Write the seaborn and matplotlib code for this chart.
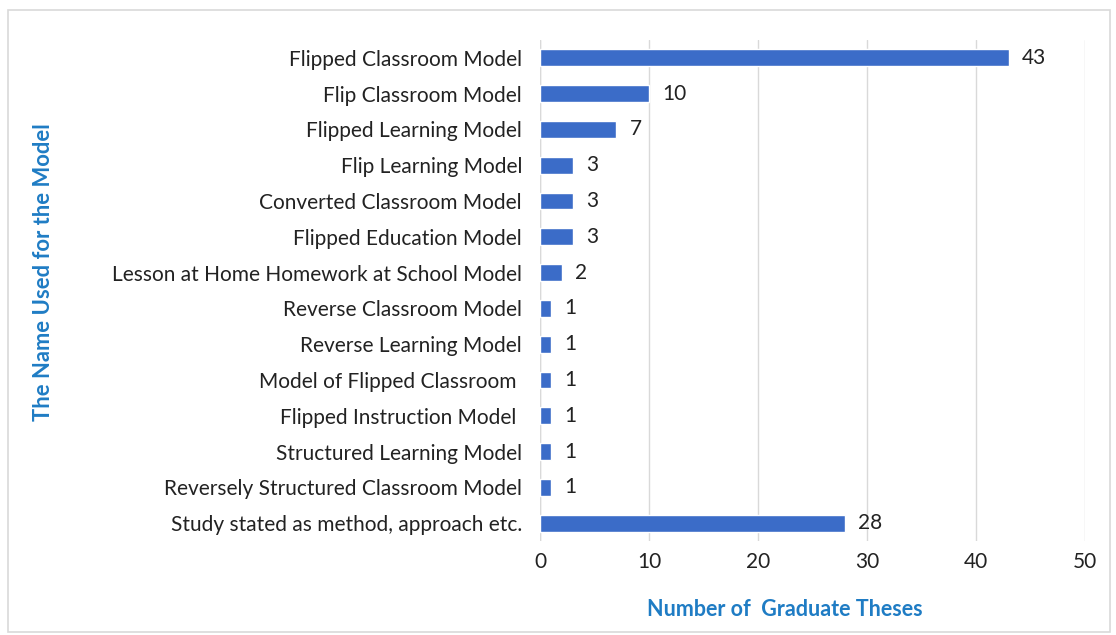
import matplotlib
matplotlib.use("Agg")
import matplotlib.pyplot as plt
import seaborn as sns
import pandas as pd
from matplotlib.patches import Rectangle

# data
models = [
    "Flipped Classroom Model",
    "Flip Classroom Model",
    "Flipped Learning Model",
    "Flip Learning Model",
    "Converted Classroom Model",
    "Flipped Education Model",
    "Lesson at Home Homework at School Model",
    "Reverse Classroom Model",
    "Reverse Learning Model",
    "Model of Flipped Classroom ",
    "Flipped Instruction Model ",
    "Structured Learning Model",
    "Reversely Structured Classroom Model",
    "Study stated as method, approach etc.",
]
theses = [43, 10, 7, 3, 3, 3, 2, 1, 1, 1, 1, 1, 1, 28]
x_ticks = [0, 10, 20, 30, 40, 50]

df = pd.DataFrame({"model": models, "count": theses})

sns.set_theme(style="white")
plt.rcParams['font.family'] = ['Lato', 'DejaVu Sans']

fig = plt.figure(figsize=(11.16, 6.35), dpi=100)
ax = fig.add_axes([0.484, 0.148, 0.488, 0.789])

bar_color = "#3b6cc8"
sns.barplot(data=df, x="count", y="model", orient="h", color=bar_color,
            width=0.47, saturation=1, ax=ax, zorder=3)

for i, v in enumerate(theses):
    ax.text(v + 1.2, i, str(v), va="center", ha="left", fontsize=15, color="#222222")

ax.set_xlim(0, 50)
ax.set_xticks(x_ticks)
ax.set_ylim(len(models) - 0.5, -0.5)
ax.xaxis.grid(True, color="#d9d9d9", linewidth=1, zorder=0)
for s in ax.spines.values():
    s.set_visible(False)
ax.axvline(0, color="#d9d9d9", linewidth=1, zorder=1)
ax.tick_params(axis="both", length=0, labelsize=15, colors="#222222")
ax.tick_params(axis="y", pad=13)
ax.tick_params(axis="x", pad=8)

ax.set_xlabel("Number of  Graduate Theses", fontsize=15.5, fontweight="bold",
              color="#1f7cc4")
ax.xaxis.set_label_coords(0.45, -0.115)
ax.set_ylabel("")
fig.text(0.039, 0.572, "The Name Used for the Model", rotation=90, fontsize=15.8,
         fontweight="bold", color="#1f7cc4", ha="center", va="center")

# outer frame
fig.patches.append(Rectangle((0.007, 0.005), 0.988, 0.98, transform=fig.transFigure,
                             fill=False, edgecolor="#d9d9d9", linewidth=1.2))

fig.savefig("out.png", dpi=100)
